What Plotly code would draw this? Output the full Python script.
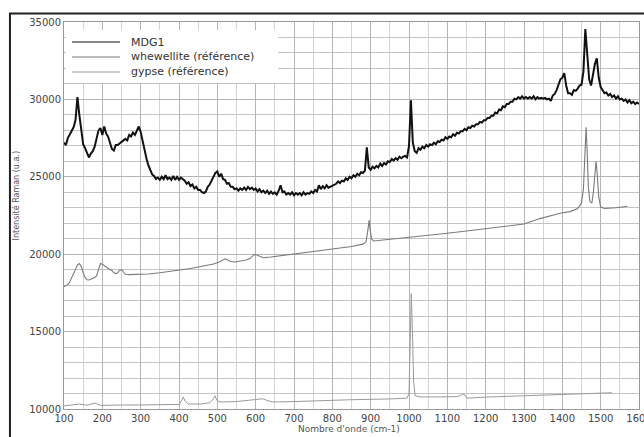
import plotly.graph_objects as go

# ---- data ----
# MDG1: one value every 5 cm-1 from 100 to 1600 (each row = 50 cm-1)
mdg1_x = list(range(100, 1601, 5))
mdg1_y = [
    27200,27050,27500,27750,28050,28200,28650,30150,29000,27900,   # 100
    27100,26850,26500,26250,26500,26650,26950,27450,28000,28150,   # 150
    27700,28250,27800,27600,27150,26800,26700,27050,27050,27150,   # 200
    27250,27350,27450,27350,27700,27600,27850,27700,28000,28250,   # 250
    27900,27300,26600,26200,25750,25400,25150,25050,24850,24950,   # 300
    24800,25000,24850,25100,24850,24950,24800,25050,24800,25000,   # 350
    24800,24950,24850,24750,24550,24650,24400,24500,24250,24350,   # 400
    24150,24150,24000,23950,24050,24350,24500,24750,25100,25250,   # 450
    25350,25000,25200,24850,24800,24550,24600,24350,24350,24200,   # 500
    24250,24100,24250,24150,24300,24150,24350,24200,24300,24150,   # 550
    24250,24050,24200,24000,24100,23950,24100,23900,24050,23900,   # 600
    24000,23850,24100,24450,24000,24050,23850,23950,23850,24000,   # 650
    23800,23950,23850,23950,23800,24000,23850,23950,23900,24050,   # 700
    23950,24150,24050,24450,24200,24400,24250,24450,24300,24350,   # 750
    24450,24500,24550,24700,24600,24750,24700,24900,24800,25000,   # 800
    24900,25100,25000,25200,25100,25300,25250,25400,26900,25600,   # 850
    25450,25650,25550,25700,25600,25850,25700,25900,25800,26000,   # 900
    25950,26150,26050,26200,26100,26300,26200,26300,26350,26250,   # 950
    27000,29950,27200,26650,26550,26850,26750,26950,26850,27050,   # 1000
    26950,27100,27050,27200,27100,27300,27250,27400,27350,27550,   # 1050
    27450,27600,27550,27750,27650,27850,27800,27950,27950,28100,   # 1100
    28000,28200,28150,28300,28250,28400,28400,28550,28500,28650,   # 1150
    28650,28800,28800,28950,28950,29150,29100,29350,29300,29550,   # 1200
    29500,29700,29700,29850,29850,30050,30000,30150,30050,30200,   # 1250
    30050,30150,30050,30150,30050,30200,30000,30150,30050,30100,   # 1300
    30050,30100,30000,30050,29900,30250,30350,30600,30900,31300,   # 1350
    31400,31700,30900,30400,30400,30300,30600,30550,30700,30900,   # 1400
    30950,31800,34550,33000,31300,30900,31600,32300,32650,31400,   # 1450
    30800,30550,30400,30450,30250,30350,30150,30250,30050,30200,   # 1500
    30000,30050,29900,30000,29800,29950,29750,29850,29700,29800,   # 1550
    29700,                                                         # 1600
]

whew_x = [100,105,110,115,120,125,130,135,140,145,150,155,160,165,170,175,180,185,190,195,200,205,210,215,220,225,230,235,240,245,250,255,260,270,280,300,320,350,380,400,430,460,490,505,515,520,525,535,545,560,575,585,595,600,610,620,640,680,720,768,800,850,880,888,893,896,899,903,908,920,950,1000,1050,1100,1150,1200,1250,1300,1342,1394,1420,1440,1450,1455,1459,1462,1465,1468,1472,1477,1481,1485,1488,1491,1495,1500,1510,1540,1570]
whew_y = [17900,17950,18050,18200,18450,18750,19050,19300,19400,19200,18800,18500,18350,18330,18380,18420,18500,18600,19000,19400,19350,19250,19150,19100,19000,18950,18800,18750,18800,18950,19000,18850,18700,18680,18680,18680,18720,18800,18900,18970,19080,19220,19370,19500,19650,19700,19650,19530,19500,19550,19620,19720,19950,19980,19850,19770,19820,19950,20080,20250,20350,20500,20650,20800,21600,22200,21500,20950,20850,20880,20950,21070,21200,21350,21500,21650,21800,21950,22300,22650,22750,22950,23300,24200,26500,28200,26500,24300,23400,23300,24000,25300,26000,25200,23700,23050,22950,23000,23100]

gyp_x = [100,120,140,160,181,195,210,250,300,350,400,405,411,416,424,455,480,488,494,499,507,550,593,605,618,630,645,700,768,850,950,995,1000,1003,1006,1009,1012,1016,1030,1080,1125,1135,1141,1146,1151,1200,1300,1400,1500,1530]
gyp_y = [10200,10250,10320,10250,10380,10230,10250,10260,10260,10280,10300,10450,10780,10500,10330,10320,10400,10600,10850,10550,10450,10480,10570,10620,10660,10550,10450,10480,10550,10600,10650,10700,11000,14000,17450,15000,11800,10850,10780,10780,10800,10880,10980,10900,10700,10770,10850,10950,11050,11050]

series_names = ["MDG1", "whewellite (référence)", "gypse (référence)"]
series_colors = ["#111111", "#7a7a7a", "#9a9a9a"]
series_widths = [2.0, 1.1, 1.0]
x_ticks = [100,200,300,400,500,600,700,800,900,1000,1100,1200,1300,1400,1500,1600]
y_ticks = [10000,15000,20000,25000,30000,35000]

FONT = "DejaVu Sans"

fig = go.Figure()
for xs, ys, nm, col, w in zip([mdg1_x, whew_x, gyp_x], [mdg1_y, whew_y, gyp_y],
                              series_names, series_colors, series_widths):
    fig.add_trace(go.Scatter(x=xs, y=ys, mode="lines", name=nm,
                             line=dict(color=col, width=w), showlegend=False))

# plot-area pixel helpers for the hand-built legend (plot area 575 x 387 px)
PW, PH = 575.0, 387.0
def px(x):
    return (x - 64) / PW
def py(y):
    return 1 - (y - 22) / PH

shapes = [
    dict(type="rect", xref="paper", yref="paper",
         x0=-0.094, x1=1.05, y0=-0.2, y1=1.022,
         line=dict(color="#222222", width=2), fillcolor="rgba(0,0,0,0)", layer="above"),
    dict(type="rect", xref="paper", yref="paper",
         x0=px(66), x1=px(278), y0=py(83), y1=py(30),
         line=dict(width=0), fillcolor="white", layer="above"),
]
annotations = [
    dict(text="Intensité Raman (u.a.)", xref="paper", yref="paper",
         x=-0.083, y=0.55, textangle=-90, showarrow=False,
         font=dict(family=FONT, size=8, color="#555555"),
         xanchor="center", yanchor="middle"),
    dict(text="Nombre d'onde (cm-1)", xref="paper", yref="paper",
         x=0.496, y=-0.052, showarrow=False,
         font=dict(family=FONT, size=9, color="#555555"),
         xanchor="center", yanchor="middle"),
]
for i, (nm, col) in enumerate(zip(series_names, series_colors)):
    yy = 42 + 15 * i
    shapes.append(dict(type="line", xref="paper", yref="paper",
                       x0=px(72), x1=px(120), y0=py(yy), y1=py(yy),
                       line=dict(color=col, width=1.2), layer="above"))
    annotations.append(dict(text=nm, xref="paper", yref="paper",
                            x=px(129), y=py(yy), xanchor="left", yanchor="middle",
                            showarrow=False,
                            font=dict(family=FONT, size=11, color="#333333")))

fig.update_layout(
    width=644, height=437,
    margin=dict(l=64, r=5, t=22, b=28, autoexpand=False),
    paper_bgcolor="white", plot_bgcolor="white",
    font=dict(family=FONT, size=10, color="#444444"),
    showlegend=False,
    xaxis=dict(range=[100, 1600], tickvals=x_ticks, ticktext=[str(v) for v in x_ticks],
               ticks="", showline=True, ticklabeloverflow="allow", automargin=False,
               linecolor="#999999", linewidth=1, mirror=True,
               showgrid=True, gridcolor="#b4b4b4", gridwidth=1,
               minor=dict(dtick=50, showgrid=True, gridcolor="#d4d4d4", gridwidth=1),
               zeroline=False, tickfont=dict(size=10, color="#444444")),
    yaxis=dict(range=[10000, 35000], tickvals=y_ticks, ticktext=[str(v) for v in y_ticks],
               ticks="", showline=True, automargin=False,
               linecolor="#999999", linewidth=1, mirror=True,
               showgrid=True, gridcolor="#b4b4b4", gridwidth=1,
               minor=dict(dtick=1000, showgrid=True, gridcolor="#c4c4c4", gridwidth=1),
               zeroline=False, tickfont=dict(size=10, color="#444444")),
    shapes=shapes,
    annotations=annotations,
)

fig.write_html("out.html")
